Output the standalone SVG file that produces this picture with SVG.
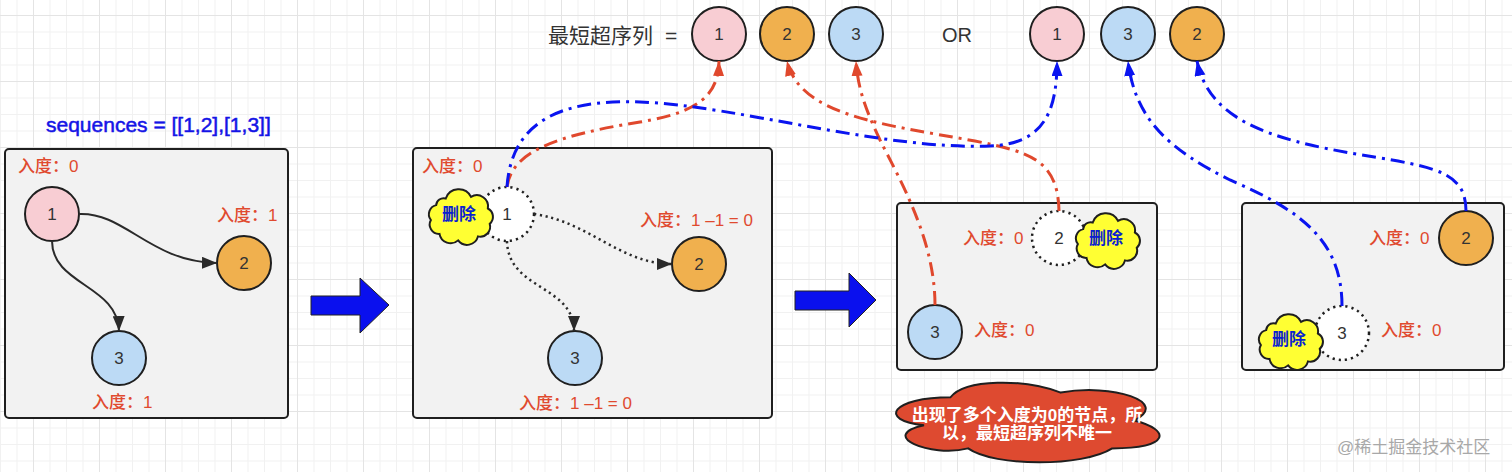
<svg xmlns="http://www.w3.org/2000/svg" xmlns:xlink="http://www.w3.org/1999/xlink" width="1512" height="472" viewBox="0 0 1512 472">
<defs>
<style>
.lbl{font-family:"Liberation Sans","Noto Sans CJK SC",sans-serif;font-size:17px;font-weight:500;fill:#e04a2f;dominant-baseline:central}
.num{font-family:"Liberation Sans",sans-serif;font-size:17px;fill:#333;text-anchor:middle;dominant-baseline:central}
.box{fill:#f2f2f2;stroke:#1f1f1f;stroke-width:2}
.n{stroke:#1f1f1f;stroke-width:2}
.n1{fill:#f8cdd3}.n2{fill:#f0b04e}.n3{fill:#bcdaf5}
.nd{fill:#fff;stroke:#1f1f1f;stroke-width:2.5;stroke-dasharray:2.2 4}
.del{font-family:"Liberation Sans","Noto Sans CJK SC",sans-serif;font-size:17px;font-weight:bold;fill:#0a1fd0;text-anchor:middle;dominant-baseline:central}
.solid{fill:none;stroke:#2a2a2a;stroke-width:2}
.dot{fill:none;stroke:#2a2a2a;stroke-width:2.5;stroke-dasharray:2.2 3.6}
.red{fill:none;stroke:#e0482d;stroke-width:3;stroke-dasharray:14 6 3 6}
.blue{fill:none;stroke:#0a14f0;stroke-width:3;stroke-dasharray:14 6 3 6}
.big{fill:#0a10ee;stroke:#222;stroke-width:1}
</style>
<pattern id="grid" patternUnits="userSpaceOnUse" x="33" y="15" width="66" height="66">
<path d="M17 0V66M33.5 0V66M50 0V66M0 17H66M0 33.5H66M0 50H66" stroke="#f1f1f1" stroke-width="1"/>
<path d="M0.5 0V66M0 0.5H66" stroke="#e4e4e4" stroke-width="1"/>
</pattern>
<marker id="ahD" markerUnits="userSpaceOnUse" markerWidth="16" markerHeight="12" refX="15" refY="6" orient="auto"><path d="M0,0 L15,6 L0,12 z" fill="#2a2a2a"/></marker>
<marker id="ahR" markerUnits="userSpaceOnUse" markerWidth="16" markerHeight="12" refX="15" refY="5.5" orient="auto"><path d="M0,0 L15,5.5 L0,11 z" fill="#e0482d"/></marker>
<marker id="ahB" markerUnits="userSpaceOnUse" markerWidth="16" markerHeight="12" refX="15" refY="5.5" orient="auto"><path d="M0,0 L15,5.5 L0,11 z" fill="#0a14f0"/></marker>
<path id="cloudY" d="M19,10.4 A11,11 0 0 1 39.2,9.1 A9,9 0 0 1 52.7,18.4 A7.5,7.5 0 0 1 54.2,30.7 A8,8 0 0 1 44.8,40.7 A9,9 0 0 1 28.9,43.9 A9,9 0 0 1 14,38.7 A7.5,7.5 0 0 1 7.1,27.6 A7.5,7.5 0 0 1 11.3,15.7 A6,6 0 0 1 19,10.4 Z" fill="#ffff33" stroke="#1f1f1f" stroke-width="1.6"/>
</defs>
<rect width="1512" height="472" fill="#fff"/>
<rect width="1512" height="472" fill="url(#grid)"/>

<text x="46" y="124" font-family="Liberation Sans,sans-serif" font-size="21" fill="#1414e6" stroke="#1414e6" stroke-width="0.5" dominant-baseline="central">sequences = [[1,2],[1,3]]</text>

<g id="top-row">
<text y="35" font-family="Liberation Sans,Noto Sans CJK SC,sans-serif" font-size="21" fill="#333" dominant-baseline="central"><tspan x="548">最短超序列</tspan><tspan x="665">=</tspan></text>
<text x="957" y="35" font-family="Liberation Sans,sans-serif" font-size="20" fill="#333" text-anchor="middle" dominant-baseline="central">OR</text>
</g>
<g id="t1"><circle cx="719" cy="34" r="27" class="n n1"/><text x="719" y="34" class="num">1</text></g>
<g id="t2"><circle cx="787" cy="34" r="27" class="n n2"/><text x="787" y="34" class="num">2</text></g>
<g id="t3"><circle cx="856" cy="34" r="27" class="n n3"/><text x="856" y="34" class="num">3</text></g>
<g id="u1"><circle cx="1057" cy="34" r="27" class="n n1"/><text x="1057" y="34" class="num">1</text></g>
<g id="u3"><circle cx="1128" cy="34" r="27" class="n n3"/><text x="1128" y="34" class="num">3</text></g>
<g id="u2"><circle cx="1197" cy="34" r="27" class="n n2"/><text x="1197" y="34" class="num">2</text></g>

<g id="box1">
<rect x="5" y="149" width="283" height="269" rx="4" class="box"/>
<text x="18" y="166" class="lbl">入度：0</text>
<text x="217" y="215" class="lbl">入度：1</text>
<text x="92" y="402" class="lbl">入度：1</text>
</g>
<g id="a1"><circle cx="52" cy="214" r="27" class="n n1"/><text x="52" y="214" class="num">1</text></g>
<g id="a2"><circle cx="244" cy="263" r="27" class="n n2"/><text x="244" y="263" class="num">2</text></g>
<g id="a3"><circle cx="119" cy="358" r="27" class="n n3"/><text x="119" y="358" class="num">3</text></g>

<g id="arrow1"><path class="big" d="M311,296 H360 V278 L389,305 L360,333 V315 H311 Z"/></g>

<g id="box2">
<rect x="413" y="148" width="359" height="270" rx="4" class="box"/>
<text x="422" y="166" class="lbl">入度：0</text>
<text x="640" y="220" class="lbl">入度：1 –1 = 0</text>
<text x="519" y="403" class="lbl">入度：1 –1 = 0</text>
</g>
<g id="b1"><circle cx="507" cy="214" r="27" class="nd"/><text x="507" y="214" class="num">1</text></g>
<g id="b2"><circle cx="699" cy="264" r="27" class="n n2"/><text x="699" y="264" class="num">2</text></g>
<g id="b3"><circle cx="575" cy="358" r="27" class="n n3"/><text x="575" y="358" class="num">3</text></g>
<g id="b-del"><use xlink:href="#cloudY" href="#cloudY" transform="translate(422,185.5) scale(1.25)"/><text x="459" y="214" class="del">删除</text></g>

<g id="arrow2"><path class="big" d="M795,291 H849 V273 L876,300 L849,327 V310 H795 Z"/></g>

<g id="box3">
<rect x="897" y="203" width="260" height="167" rx="4" class="box"/>
<text x="963" y="238" class="lbl">入度：0</text>
<text x="974" y="330" class="lbl">入度：0</text>
</g>
<g id="c2"><circle cx="1059" cy="238" r="27" class="nd"/><text x="1059" y="238" class="num">2</text></g>
<g id="c3"><circle cx="935" cy="332" r="27" class="n n3"/><text x="935" y="332" class="num">3</text></g>
<g id="c-del"><use xlink:href="#cloudY" href="#cloudY" transform="translate(1069,209.5) scale(1.25)"/><text x="1106" y="238" class="del">删除</text></g>

<g id="box4">
<rect x="1242" y="203" width="262" height="167" rx="4" class="box"/>
<text x="1369" y="238" class="lbl">入度：0</text>
<text x="1381" y="330" class="lbl">入度：0</text>
</g>
<g id="d2"><circle cx="1466" cy="238" r="27" class="n n2"/><text x="1466" y="238" class="num">2</text></g>
<g id="d3"><circle cx="1342" cy="333" r="27" class="nd"/><text x="1342" y="333" class="num">3</text></g>
<g id="d-del"><use xlink:href="#cloudY" href="#cloudY" transform="translate(1252,310.5) scale(1.25)"/><text x="1289" y="339" class="del">删除</text></g>

<g id="note">
<path d="M950.5,397.25 C891.7,397.25 877,420.5 924,425.2 C877,435.4 929.9,457.7 968.1,448.4 C994.6,467 1082.8,467 1112.2,448.4 C1171,448.4 1171,429.8 1134.25,420.5 C1171,401.9 1112.2,383.3 1060.75,392.6 C1024,378.65 965.2,378.65 950.5,397.25 Z" fill="#de4a30" stroke="#1f1f1f" stroke-width="2"/>
<text font-family="Liberation Sans,Noto Sans CJK SC,sans-serif" font-size="17" font-weight="bold" fill="#fff" text-anchor="middle" dominant-baseline="central"><tspan x="1027" y="415">出现了多个入度为0的节点，所</tspan><tspan x="1027" y="433">以，最短超序列不唯一</tspan></text>
</g>

<g id="connectors">
<path class="solid" d="M79,214 C125,212 150,262 217,263" marker-end="url(#ahD)"/>
<path class="solid" d="M52,241 C52,285 118,285 119,331" marker-end="url(#ahD)"/>
<path class="dot" d="M534,214 C590,222 620,264 672,264" marker-end="url(#ahD)"/>
<path class="dot" d="M507,241 C508,290 574,285 574,331" marker-end="url(#ahD)"/>
<path class="red" d="M507,187 C512,150 560,135 640,122 C700,112 718,95 719,61" marker-end="url(#ahR)"/>
<path class="red" d="M1059,211 C1058,160 1030,152 975,141 C880,124 800,115 787,61" marker-end="url(#ahR)"/>
<path class="red" d="M935,305 C935,240 900,180 880,140 C866,110 858,90 856,61" marker-end="url(#ahR)"/>
<path class="blue" d="M507,187 C512,110 580,100 640,102 C740,106 880,150 990,146 C1045,144 1057,110 1057,61" marker-end="url(#ahB)"/>
<path class="blue" d="M1342,306 C1342,240 1300,210 1230,180 C1170,150 1135,120 1128,61" marker-end="url(#ahB)"/>
<path class="blue" d="M1466,211 C1466,175 1440,168 1380,158 C1280,142 1210,125 1197,61" marker-end="url(#ahB)"/>
</g>

<text x="1337" y="447" font-family="Liberation Sans,Noto Sans CJK SC,sans-serif" font-size="17" fill="#a8a8a8" dominant-baseline="central">@稀土掘金技术社区</text>
</svg>
